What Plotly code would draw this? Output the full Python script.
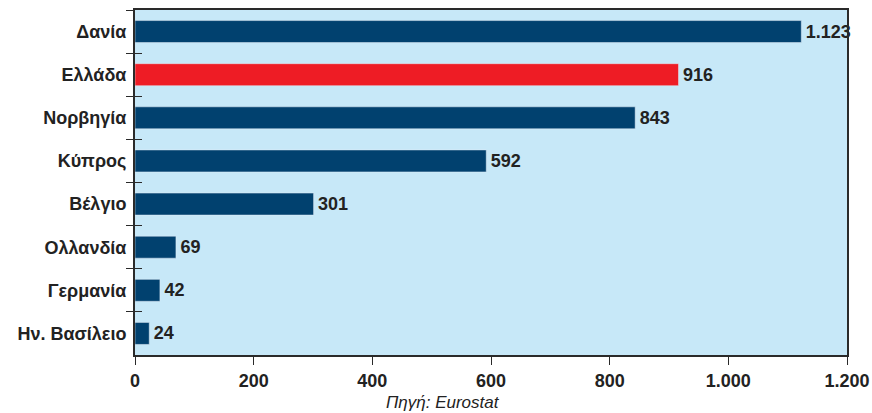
import plotly.graph_objects as go

countries = ["Δανία", "Ελλάδα", "Νορβηγία", "Κύπρος", "Βέλγιο", "Ολλανδία", "Γερμανία", "Ην. Βασίλειο"]
values = [1123, 916, 843, 592, 301, 69, 42, 24]
highlight = "Ελλάδα"
x_ticks = [0, 200, 400, 600, 800, 1000, 1200]
x_tick_labels = ["0", "200", "400", "600", "800", "1.000", "1.200"]
source = "Πηγή: Eurostat"

BLUE = "#01416F"
RED = "#EE1C25"
BG = "#C7E8F8"
AX = "#2A2A2A"

colors = [RED if c == highlight else BLUE for c in countries]
labels = ["\u200a" + f"{v:,}".replace(",", ".") for v in values]

fig = go.Figure()
fig.add_trace(go.Bar(
    x=values, y=countries, orientation="h",
    marker=dict(color=colors, line=dict(width=0)),
    text=labels, textposition="outside", constraintext="none",
    textfont=dict(family="Liberation Sans Narrow, Liberation Sans, Arial, sans-serif",
                  size=18, color="#222222", weight="bold"),
    cliponaxis=False, hoverinfo="skip",
))
fig.add_trace(go.Bar(
    x=values, y=countries, orientation="h", yaxis="y2",
    marker=dict(color="rgba(0,0,0,0)"), hoverinfo="skip", showlegend=False,
))

fig.update_layout(
    width=872, height=413,
    margin=dict(l=135, r=25, t=10, b=58),
    paper_bgcolor="white", plot_bgcolor=BG,
    bargap=0.49, showlegend=False,
    font=dict(family="Liberation Sans, Arial, sans-serif", color="#222222"),
    xaxis=dict(
        range=[0, 1200], tickvals=x_ticks, ticktext=x_tick_labels,
        showgrid=False, zeroline=False, automargin=False,
        showline=True, linecolor=AX, linewidth=2, mirror=True,
        ticks="outside", ticklen=8, tickwidth=1, tickcolor=AX,
        tickfont=dict(size=18, weight="bold", color="#222222"),
    ),
    yaxis=dict(
        type="category", categoryorder="array", categoryarray=countries,
        autorange="reversed", automargin=False,
        showgrid=False, zeroline=False,
        showline=True, linecolor=AX, linewidth=2, mirror=True,
        ticks="outside", tickson="boundaries", ticklen=7, tickwidth=1, tickcolor=AX,
        tickfont=dict(size=18, weight="bold", color="#222222"),
        ticklabelstandoff=3,
    ),
    yaxis2=dict(
        type="category", categoryorder="array", categoryarray=countries,
        autorange="reversed", overlaying="y", side="left", automargin=False,
        showgrid=False, zeroline=False, showline=False,
        ticks="inside", tickson="boundaries", ticklen=7, tickwidth=1, tickcolor=AX,
        showticklabels=False,
    ),
    annotations=[dict(
        text=source, x=0.5, xref="paper", y=-0.139, yref="paper",
        yanchor="middle", showarrow=False,
        font=dict(size=17, style="italic", color="#222222"),
        xshift=-48,
    )],
)

fig.write_html("out.html")
